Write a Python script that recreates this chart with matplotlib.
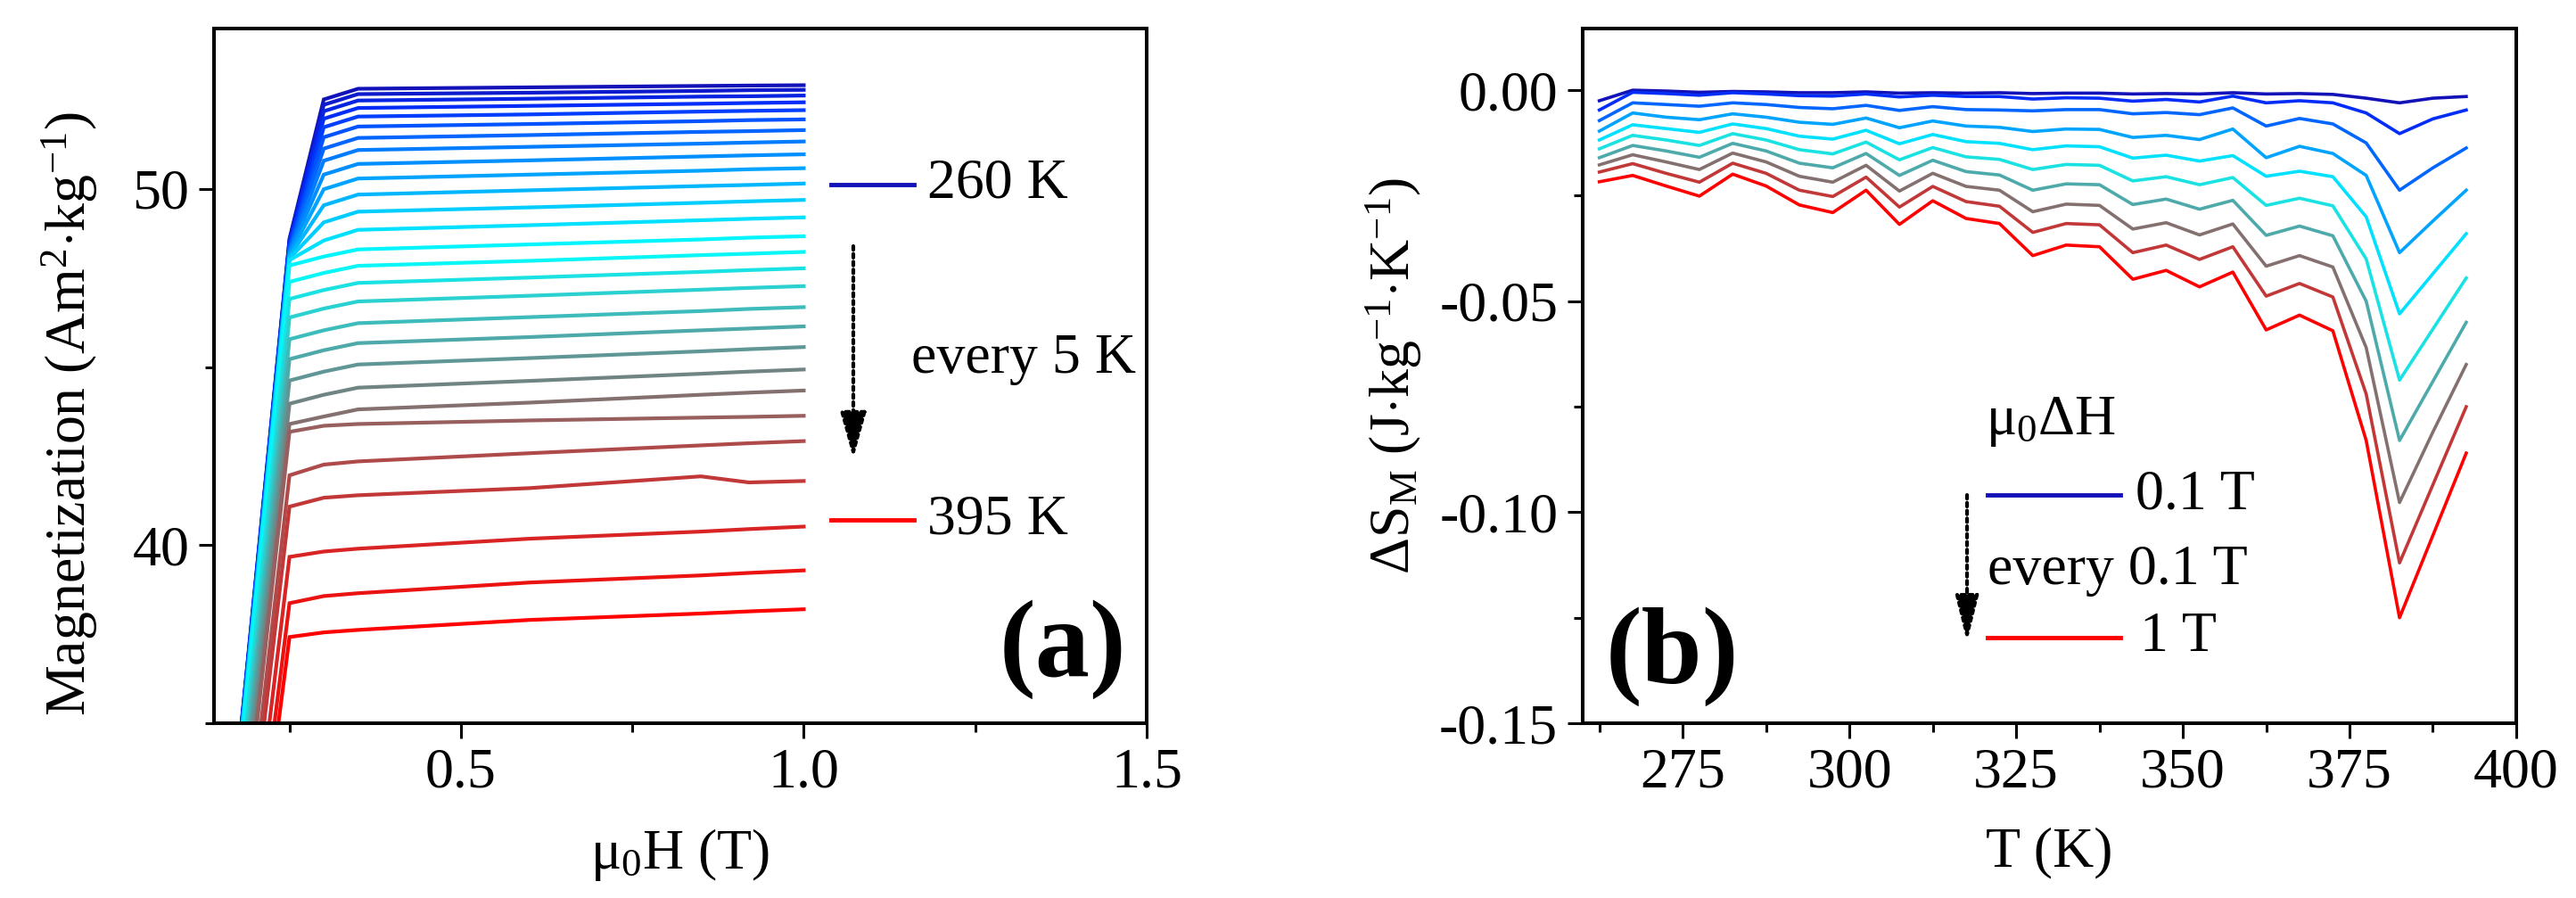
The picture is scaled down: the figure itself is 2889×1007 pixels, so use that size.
import matplotlib
matplotlib.use('Agg')
import matplotlib.pyplot as plt
from matplotlib.colors import LinearSegmentedColormap
from matplotlib.ticker import MultipleLocator, FormatStrFormatter
from matplotlib.lines import Line2D

plt.rcParams['font.family'] = ['Liberation Serif', 'DejaVu Serif']
plt.rcParams['mathtext.fontset'] = 'custom'
plt.rcParams['mathtext.rm'] = 'Liberation Serif'
plt.rcParams['mathtext.it'] = 'Liberation Serif:italic'
plt.rcParams['mathtext.bf'] = 'Liberation Serif:bold'
plt.rcParams['axes.unicode_minus'] = False

# ---------------- Panel (a): M(H) isotherms, 260 K ... 395 K every 5 K ----------------
field_T = [0.0, 0.25, 0.30, 0.35, 0.60, 0.85, 0.92, 1.00]
temps_a = [260, 265, 270, 275, 280, 285, 290, 295, 300, 305, 310, 315, 320, 325,
           330, 335, 340, 345, 350, 355, 360, 365, 370, 375, 380, 385, 390, 395]

M_260 = [0, 48.60, 52.51, 52.81, 52.85, 52.89, 52.90, 52.91]
M_265 = [0, 48.55, 52.36, 52.66, 52.70, 52.75, 52.77, 52.78]
M_270 = [0, 48.50, 52.18, 52.48, 52.53, 52.59, 52.60, 52.62]
M_275 = [0, 48.45, 51.97, 52.27, 52.33, 52.39, 52.41, 52.43]
M_280 = [0, 48.40, 51.73, 52.03, 52.09, 52.17, 52.19, 52.21]
M_285 = [0, 48.35, 51.45, 51.75, 51.82, 51.90, 51.93, 51.95]
M_290 = [0, 48.30, 51.13, 51.43, 51.51, 51.60, 51.62, 51.65]
M_295 = [0, 48.25, 50.79, 51.09, 51.18, 51.27, 51.30, 51.33]
M_300 = [0, 48.20, 50.40, 50.70, 50.80, 50.91, 50.94, 50.97]
M_305 = [0, 48.15, 49.99, 50.29, 50.40, 50.51, 50.55, 50.58]
M_310 = [0, 48.10, 49.54, 49.84, 49.96, 50.08, 50.11, 50.15]
M_315 = [0, 48.05, 49.06, 49.36, 49.48, 49.61, 49.65, 49.69]
M_320 = [0, 48.00, 48.55, 48.85, 48.98, 49.12, 49.16, 49.20]
M_325 = [0, 47.85, 48.10, 48.30, 48.44, 48.58, 48.63, 48.67]
M_330 = [0, 47.39, 47.64, 47.84, 47.98, 48.14, 48.18, 48.23]
M_335 = [0, 46.91, 47.16, 47.36, 47.51, 47.67, 47.72, 47.77]
M_340 = [0, 46.39, 46.64, 46.84, 47.00, 47.17, 47.22, 47.27]
M_345 = [0, 45.78, 46.03, 46.23, 46.40, 46.57, 46.63, 46.68]
M_350 = [0, 45.22, 45.47, 45.67, 45.84, 46.03, 46.08, 46.14]
M_355 = [0, 44.62, 44.87, 45.07, 45.25, 45.44, 45.50, 45.56]
M_360 = [0, 43.97, 44.22, 44.42, 44.61, 44.81, 44.87, 44.93]
M_365 = [0, 43.40, 43.61, 43.81, 44.00, 44.22, 44.28, 44.34]
M_370 = [0, 43.18, 43.35, 43.40, 43.50, 43.58, 43.60, 43.63]
M_375 = [0, 41.96, 42.26, 42.35, 42.58, 42.80, 42.86, 42.92]
M_380 = [0, 41.08, 41.33, 41.40, 41.60, 41.93, 41.76, 41.80]
M_385 = [0, 39.67, 39.82, 39.90, 40.18, 40.38, 40.45, 40.52]
M_390 = [0, 38.37, 38.57, 38.65, 38.95, 39.15, 39.22, 39.29]
M_395 = [0, 37.42, 37.55, 37.62, 37.90, 38.08, 38.14, 38.20]

M_curves = [M_260, M_265, M_270, M_275, M_280, M_285, M_290, M_295, M_300, M_305,
            M_310, M_315, M_320, M_325, M_330, M_335, M_340, M_345, M_350, M_355,
            M_360, M_365, M_370, M_375, M_380, M_385, M_390, M_395]

# ---------------- Panel (b): entropy change vs T, 0.1 T ... 1 T ----------------
T_mid = [262.5, 267.5, 272.5, 277.5, 282.5, 287.5, 292.5, 297.5, 302.5, 307.5,
         312.5, 317.5, 322.5, 327.5, 332.5, 337.5, 342.5, 347.5, 352.5, 357.5,
         362.5, 367.5, 372.5, 377.5, 382.5, 387.5, 392.5]
fields_b = ['0.1 T', '0.2 T', '0.3 T', '0.4 T', '0.5 T', '0.6 T', '0.7 T', '0.8 T', '0.9 T', '1 T']

dS_01 = [-0.0025, 0.0000, -0.0002, -0.0005, -0.0003, -0.0004, -0.0006, -0.0006, -0.0004, -0.0007,
         -0.0006, -0.0007, -0.0006, -0.0008, -0.0007, -0.0007, -0.0009, -0.0008, -0.0009, -0.0006,
         -0.0009, -0.0008, -0.0010, -0.0019, -0.0030, -0.0019, -0.0015]
dS_02 = [-0.0047, -0.0005, -0.0008, -0.0012, -0.0006, -0.0009, -0.0013, -0.0014, -0.0009, -0.0016,
         -0.0012, -0.0015, -0.0015, -0.0021, -0.0018, -0.0019, -0.0026, -0.0022, -0.0028, -0.0014,
         -0.0030, -0.0025, -0.0030, -0.0054, -0.0103, -0.0068, -0.0047]
dS_03 = [-0.0072, -0.0030, -0.0034, -0.0038, -0.0030, -0.0034, -0.0041, -0.0044, -0.0036, -0.0048,
         -0.0039, -0.0046, -0.0047, -0.0049, -0.0046, -0.0046, -0.0056, -0.0053, -0.0058, -0.0042,
         -0.0085, -0.0067, -0.0080, -0.0125, -0.0237, -0.0184, -0.0137]
dS_04 = [-0.0097, -0.0054, -0.0064, -0.0070, -0.0056, -0.0064, -0.0076, -0.0081, -0.0066, -0.0089,
         -0.0073, -0.0085, -0.0088, -0.0098, -0.0092, -0.0093, -0.0112, -0.0107, -0.0117, -0.0092,
         -0.0160, -0.0133, -0.0150, -0.0202, -0.0385, -0.0310, -0.0237]
dS_05 = [-0.0118, -0.0082, -0.0091, -0.0100, -0.0080, -0.0091, -0.0109, -0.0116, -0.0095, -0.0127,
         -0.0105, -0.0122, -0.0126, -0.0141, -0.0132, -0.0134, -0.0161, -0.0154, -0.0168, -0.0155,
         -0.0204, -0.0192, -0.0205, -0.0300, -0.0530, -0.0435, -0.0340]
dS_06 = [-0.0139, -0.0107, -0.0118, -0.0131, -0.0103, -0.0118, -0.0141, -0.0151, -0.0123, -0.0165,
         -0.0136, -0.0158, -0.0164, -0.0188, -0.0176, -0.0178, -0.0215, -0.0205, -0.0224, -0.0207,
         -0.0273, -0.0256, -0.0274, -0.0400, -0.0687, -0.0566, -0.0445]
dS_07 = [-0.0160, -0.0131, -0.0144, -0.0159, -0.0126, -0.0144, -0.0173, -0.0184, -0.0150, -0.0202,
         -0.0166, -0.0193, -0.0201, -0.0237, -0.0222, -0.0224, -0.0271, -0.0258, -0.0282, -0.0261,
         -0.0344, -0.0322, -0.0345, -0.0500, -0.0830, -0.0690, -0.0550]
dS_08 = [-0.0177, -0.0153, -0.0170, -0.0188, -0.0149, -0.0170, -0.0204, -0.0218, -0.0178, -0.0239,
         -0.0197, -0.0228, -0.0237, -0.0288, -0.0270, -0.0273, -0.0329, -0.0314, -0.0343, -0.0317,
         -0.0417, -0.0392, -0.0419, -0.0610, -0.0977, -0.0810, -0.0650]
dS_09 = [-0.0194, -0.0174, -0.0197, -0.0218, -0.0173, -0.0197, -0.0237, -0.0252, -0.0206, -0.0277,
         -0.0228, -0.0264, -0.0275, -0.0337, -0.0316, -0.0319, -0.0385, -0.0367, -0.0401, -0.0371,
         -0.0488, -0.0458, -0.0490, -0.0720, -0.1120, -0.0935, -0.0750]
dS_10 = [-0.0217, -0.0202, -0.0227, -0.0251, -0.0199, -0.0227, -0.0272, -0.0290, -0.0237, -0.0318,
         -0.0262, -0.0304, -0.0316, -0.0392, -0.0367, -0.0371, -0.0448, -0.0427, -0.0466, -0.0431,
         -0.0568, -0.0533, -0.0570, -0.0830, -0.1250, -0.1055, -0.0860]

dS_curves = [dS_01, dS_02, dS_03, dS_04, dS_05, dS_06, dS_07, dS_08, dS_09, dS_10]

# ---------------- styling ----------------
cmap = LinearSegmentedColormap.from_list(
    'bcgr', [(0.0, '#1212b8'), (0.12, '#0030ff'), (0.5, '#00ffff'),
             (0.76, '#7a7a7a'), (1.0, '#ff0000')])

FS = 46
LW_SPINE = 2.9

fig = plt.figure(figsize=(28.89, 10.07), dpi=100)
ax1 = fig.add_axes([0.0831, 0.1946, 0.3620, 0.7736])
ax2 = fig.add_axes([0.6144, 0.1946, 0.3624, 0.7736])


def style(ax):
    for s in ax.spines.values():
        s.set_linewidth(LW_SPINE)
    ax.tick_params(which='both', direction='out', top=False, right=False,
                   labelsize=FS, width=2.2, pad=8)
    ax.tick_params(which='major', length=12)
    ax.tick_params(which='minor', length=7)


ARROW = dict(arrowstyle='-|>,head_length=1.6,head_width=0.45', ls=(0, (1, 1.1)),
             lw=3.0, color='k', shrinkA=0, shrinkB=0, mutation_scale=20)

# panel (a)
n_a = len(M_curves)
for i, m in enumerate(M_curves):
    ax1.plot(field_T, m, color=cmap(i / (n_a - 1)), lw=3.0, solid_joinstyle='miter')
ax1.set_xlim(0.14, 1.5)
ax1.set_ylim(35, 54.5)
ax1.xaxis.set_major_locator(MultipleLocator(0.5))
ax1.xaxis.set_minor_locator(MultipleLocator(0.25))
ax1.yaxis.set_major_locator(MultipleLocator(10))
ax1.yaxis.set_minor_locator(MultipleLocator(5))
ax1.xaxis.set_major_formatter(FormatStrFormatter('%.1f'))
style(ax1)
ax1.set_xlabel(r'$\mathrm{\mu_0}$H (T)', fontsize=FS, labelpad=22)
ax1.set_ylabel(r'Magnetization (Am$^{2}$$\cdot$kg$^{-1}$)', fontsize=FS)
ax1.yaxis.set_label_coords(-0.122, 0.445)

tA = ax1.transAxes
ax1.add_line(Line2D([0.6616, 0.7505], [0.7754, 0.7754], transform=tA, color=cmap(0.0), lw=3.5))
ax1.text(0.7648, 0.7754, '260 K', transform=tA, fontsize=FS, va='center', ha='left')
ax1.text(0.7476, 0.524, 'every 5 K', transform=tA, fontsize=FS, va='center', ha='left')
ax1.add_line(Line2D([0.6616, 0.7505], [0.2927, 0.2927], transform=tA, color=cmap(1.0), lw=3.5))
ax1.text(0.7648, 0.2927, '395 K', transform=tA, fontsize=FS, va='center', ha='left')
ax1.annotate('', xy=(0.6855, 0.3813), xytext=(0.6855, 0.6868), xycoords=tA, textcoords=tA,
             arrowprops=ARROW)
ax1.text(0.978, 0.035, '(a)', transform=tA, fontsize=88, fontweight='bold',
         ha='right', va='bottom')

# panel (b)
n_b = len(dS_curves)
for i, d in enumerate(dS_curves):
    ax2.plot(T_mid, d, color=cmap(i / (n_b - 1)), lw=2.6, label=fields_b[i])
ax2.set_xlim(260, 400)
ax2.set_ylim(-0.15, 0.0146)
ax2.xaxis.set_major_locator(MultipleLocator(25))
ax2.xaxis.set_minor_locator(MultipleLocator(12.5))
ax2.yaxis.set_major_locator(MultipleLocator(0.05))
ax2.yaxis.set_minor_locator(MultipleLocator(0.025))
ax2.yaxis.set_major_formatter(FormatStrFormatter('%.2f'))
style(ax2)
ax2.set_xlabel('T (K)', fontsize=FS, labelpad=22)
ax2.set_ylabel(r'$\Delta$S$_\mathrm{M}$ (J$\cdot$kg$^{-1}$$\cdot$K$^{-1}$)', fontsize=FS, labelpad=12)

tB = ax2.transAxes
ax2.text(0.5014, 0.4339, r'$\mathrm{\mu_0}\Delta$H', transform=tB, fontsize=FS, ha='center', va='center')
ax2.add_line(Line2D([0.4336, 0.5759], [0.3286, 0.3286], transform=tB, color=cmap(0.0), lw=3.5))
ax2.text(0.5922, 0.3286, '0.1 T', transform=tB, fontsize=FS, va='center', ha='left')
ax2.text(0.4336, 0.2195, 'every 0.1 T', transform=tB, fontsize=FS, va='center', ha='left')
ax2.add_line(Line2D([0.4336, 0.5759], [0.1232, 0.1232], transform=tB, color=cmap(1.0), lw=3.5))
ax2.text(0.5970, 0.1232, '1 T', transform=tB, fontsize=FS, va='center', ha='left')
ax2.annotate('', xy=(0.4117, 0.1168), xytext=(0.4117, 0.3286), xycoords=tB, textcoords=tB,
             arrowprops=dict(ARROW, arrowstyle='-|>,head_length=1.6,head_width=0.4'))
ax2.text(0.024, 0.024, '(b)', transform=tB, fontsize=88, fontweight='bold',
         ha='left', va='bottom')

fig.savefig('out.png', dpi=100)
